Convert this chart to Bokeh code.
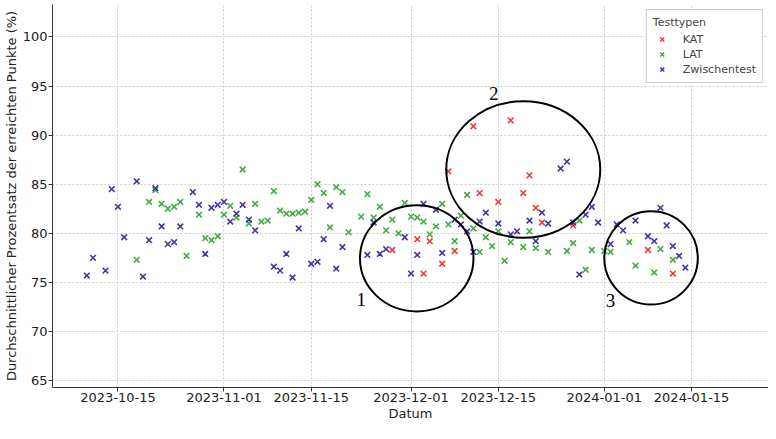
import pandas as pd
from bokeh.plotting import figure
from bokeh.models import Range1d, FixedTicker, DatetimeTickFormatter, Legend, LegendItem, ColumnDataSource
from bokeh.core.properties import value
from bokeh.embed import file_html
from bokeh.resources import INLINE

# ---------------- data ----------------
kat_dates = ["2023-11-28", "2023-12-02", "2023-12-03", "2023-12-04", "2023-12-06", "2023-12-07",
             "2023-12-08", "2023-12-11", "2023-12-12", "2023-12-15", "2023-12-17", "2023-12-19",
             "2023-12-20", "2023-12-21", "2023-12-22", "2023-12-27", "2024-01-08", "2024-01-12"]
kat_values = [78.3, 79.4, 75.9, 79.2, 76.9, 86.3,
              78.2, 90.9, 84.1, 83.2, 91.5, 84.1,
              85.9, 82.6, 81.1, 80.8, 78.3, 75.9]

lat_dates = ["2023-10-18", "2023-10-20", "2023-10-21", "2023-10-22", "2023-10-23", "2023-10-24",
             "2023-10-25", "2023-10-26", "2023-10-28", "2023-10-29", "2023-10-30", "2023-10-31",
             "2023-11-01", "2023-11-02", "2023-11-03", "2023-11-04", "2023-11-05", "2023-11-06",
             "2023-11-07", "2023-11-08", "2023-11-09", "2023-11-10", "2023-11-11", "2023-11-12",
             "2023-11-13", "2023-11-14", "2023-11-15", "2023-11-16", "2023-11-17", "2023-11-18",
             "2023-11-19", "2023-11-20", "2023-11-21", "2023-11-23", "2023-11-24", "2023-11-25",
             "2023-11-26", "2023-11-27", "2023-11-28", "2023-11-29", "2023-11-30", "2023-12-01",
             "2023-12-02", "2023-12-03", "2023-12-04", "2023-12-05", "2023-12-06", "2023-12-07",
             "2023-12-08", "2023-12-09", "2023-12-10", "2023-12-11", "2023-12-12", "2023-12-13",
             "2023-12-14", "2023-12-15", "2023-12-16", "2023-12-17", "2023-12-19", "2023-12-20",
             "2023-12-21", "2023-12-23", "2023-12-26", "2023-12-27", "2023-12-28", "2023-12-29",
             "2023-12-30", "2024-01-01", "2024-01-02", "2024-01-05", "2024-01-06", "2024-01-09",
             "2024-01-10", "2024-01-12"]
lat_values = [77.3, 83.2, 84.4, 83.0, 82.5, 82.7,
              83.2, 77.7, 81.9, 79.5, 79.3, 79.7,
              81.9, 82.8, 81.6, 86.5, 81.0, 83.0,
              81.2, 81.3, 84.3, 82.3, 82.0, 82.0,
              82.1, 82.2, 83.4, 85.0, 84.1, 80.6,
              84.7, 84.2, 80.1, 81.7, 84.0, 81.6,
              82.7, 80.3, 81.4, 80.0, 83.1, 81.7,
              81.6, 81.2, 79.9, 80.7, 83.0, 80.9,
              79.2, 81.8, 83.9, 80.5, 78.1, 79.6,
              78.7, 80.2, 77.2, 79.1, 78.6, 80.2,
              78.5, 78.1, 78.2, 79.0, 81.3, 76.3,
              78.3, 78.2, 78.1, 79.1, 76.7, 76.0,
              78.4, 77.3]

zt_dates = ["2023-10-10", "2023-10-11", "2023-10-13", "2023-10-14", "2023-10-15", "2023-10-16",
            "2023-10-18", "2023-10-19", "2023-10-20", "2023-10-21", "2023-10-22", "2023-10-23",
            "2023-10-24", "2023-10-25", "2023-10-27", "2023-10-28", "2023-10-29", "2023-10-30",
            "2023-10-31", "2023-11-01", "2023-11-02", "2023-11-03", "2023-11-04", "2023-11-05",
            "2023-11-06", "2023-11-09", "2023-11-10", "2023-11-11", "2023-11-12", "2023-11-13",
            "2023-11-15", "2023-11-16", "2023-11-17", "2023-11-18", "2023-11-19", "2023-11-20",
            "2023-11-24", "2023-11-25", "2023-11-26", "2023-11-27", "2023-11-30", "2023-12-01",
            "2023-12-02", "2023-12-03", "2023-12-05", "2023-12-06", "2023-12-08", "2023-12-09",
            "2023-12-10", "2023-12-11", "2023-12-12", "2023-12-13", "2023-12-15", "2023-12-17",
            "2023-12-18", "2023-12-20", "2023-12-21", "2023-12-22", "2023-12-23", "2023-12-25",
            "2023-12-26", "2023-12-27", "2023-12-28", "2023-12-29", "2023-12-30", "2023-12-31",
            "2024-01-02", "2024-01-03", "2024-01-04", "2024-01-06", "2024-01-08", "2024-01-09",
            "2024-01-10", "2024-01-11", "2024-01-12", "2024-01-13", "2024-01-14"]
zt_values = [75.7, 77.5, 76.2, 84.5, 82.7, 79.6,
             85.3, 75.6, 79.3, 84.6, 80.7, 78.9,
             79.1, 80.7, 84.2, 82.9, 77.9, 82.6,
             82.9, 83.2, 81.2, 82.0, 82.9, 81.4,
             80.3, 76.6, 76.2, 77.9, 75.5, 80.5,
             76.9, 77.1, 79.4, 82.8, 76.4, 78.6,
             77.8, 81.1, 77.9, 78.4, 79.6, 75.9,
             77.8, 83.0, 82.4, 78.0, 81.4, 80.9,
             80.2, 78.1, 81.2, 82.1, 81.0, 79.9,
             80.2, 81.3, 79.2, 82.1, 81.0, 86.6,
             87.3, 81.1, 75.8, 81.9, 82.7, 81.1,
             78.9, 80.9, 80.3, 81.3, 79.7, 79.2,
             82.6, 80.8, 78.7, 77.7, 76.5]

tick_labels = ["2023-10-15", "2023-11-01", "2023-11-15", "2023-12-01",
               "2023-12-15", "2024-01-01", "2024-01-15"]
y_ticks = [65, 70, 75, 80, 85, 90, 95, 100]

# circled groups (annotations)
group_names = ["1", "2", "3"]
group_centers = ["2023-12-01 22:00", "2023-12-19 00:00", "2024-01-08 12:00"]
group_center_vals = [77.45, 86.5, 77.5]
group_width_days = [18.2, 24.7, 15.0]
group_heights = [10.8, 13.9, 9.5]
group_label_dates = ["2023-11-23 00:00", "2023-12-14 06:00", "2024-01-02 00:00"]
group_label_vals = [73.3, 94.2, 73.2]

series = [("KAT", kat_dates, kat_values, "#f03c3c"),
          ("LAT", lat_dates, lat_values, "#46aa46"),
          ("Zwischentest", zt_dates, zt_values, "#4634a2")]

FONT = "DejaVu Sans"
DAY_MS = 86400000

p = figure(width=768, height=423, output_backend="svg", toolbar_location=None,
           x_axis_type="datetime",
           x_range=Range1d(pd.Timestamp("2023-10-04 12:00"), pd.Timestamp("2024-01-27 08:00")),
           y_range=Range1d(64.3, 103.3),
           min_border_top=4, min_border_right=0, min_border_left=0, min_border_bottom=0)
p.outline_line_color = None
p.background_fill_color = "white"

items = []
for name, d, v, col in series:
    src = ColumnDataSource(dict(x=pd.to_datetime(d), y=v))
    r = p.scatter("x", "y", source=src, marker="x", size=8, line_width=1.6,
                  line_color=col, fill_color=col)
    items.append(LegendItem(label=name, renderers=[r]))

# ellipses
esrc = ColumnDataSource(dict(x=pd.to_datetime(group_centers), y=group_center_vals,
                             w=[w * DAY_MS for w in group_width_days], h=group_heights))
p.ellipse(x="x", y="y", width="w", height="h", source=esrc,
          fill_alpha=0, line_color="black", line_width=2)
tsrc = ColumnDataSource(dict(x=pd.to_datetime(group_label_dates), y=group_label_vals, t=group_names))
p.text(x="x", y="y", text="t", source=tsrc, text_font=value("Liberation Serif"),
       text_font_size="19px", text_align="center", text_baseline="middle", text_color="black")

# axes
p.xaxis.ticker = FixedTicker(ticks=[pd.Timestamp(t).value // 10**6 for t in tick_labels])
fmt = "%Y-%m-%d"
p.xaxis.formatter = DatetimeTickFormatter(milliseconds=fmt, seconds=fmt, minsec=fmt, minutes=fmt,
                                          hourmin=fmt, hours=fmt, days=fmt, months=fmt, years=fmt)
p.yaxis.ticker = FixedTicker(ticks=y_ticks)
p.xaxis.axis_label = "Datum"
p.yaxis.axis_label = "Durchschnittlicher Prozentsatz der erreichten Punkte (%)"
for ax in (p.xaxis, p.yaxis):
    ax.axis_label_text_font = FONT
    ax.axis_label_text_font_style = "normal"
    ax.axis_label_text_font_size = "13px"
    ax.axis_label_text_color = "#222222"
    ax.major_label_text_font = FONT
    ax.major_label_text_font_size = "13px"
    ax.major_label_text_color = "#222222"
    ax.axis_line_color = "#333333"
    ax.major_tick_line_color = "#333333"
    ax.major_tick_in = 0
    ax.major_tick_out = 4
    ax.minor_tick_line_color = None
    ax.major_label_standoff = 1
    ax.axis_label_standoff = 1

p.grid.grid_line_color = "#cccccc"
p.grid.grid_line_dash = "2 2"
p.grid.grid_line_width = 1

legend = Legend(items=items, location="top_right", title="Testtypen")
legend.title_text_font = FONT
legend.title_text_font_size = "11px"
legend.title_text_font_style = "normal"
legend.label_text_font = FONT
legend.label_text_font_size = "11px"
legend.border_line_color = "#cccccc"
legend.border_line_alpha = 1
legend.background_fill_alpha = 0.9
legend.margin = 5
legend.padding = 6
legend.spacing = 1
legend.label_height = 14
legend.glyph_height = 14
legend.glyph_width = 18
legend.label_standoff = 12
legend.title_standoff = 3
p.add_layout(legend)

open("out.html", "w").write(file_html(p, INLINE))
